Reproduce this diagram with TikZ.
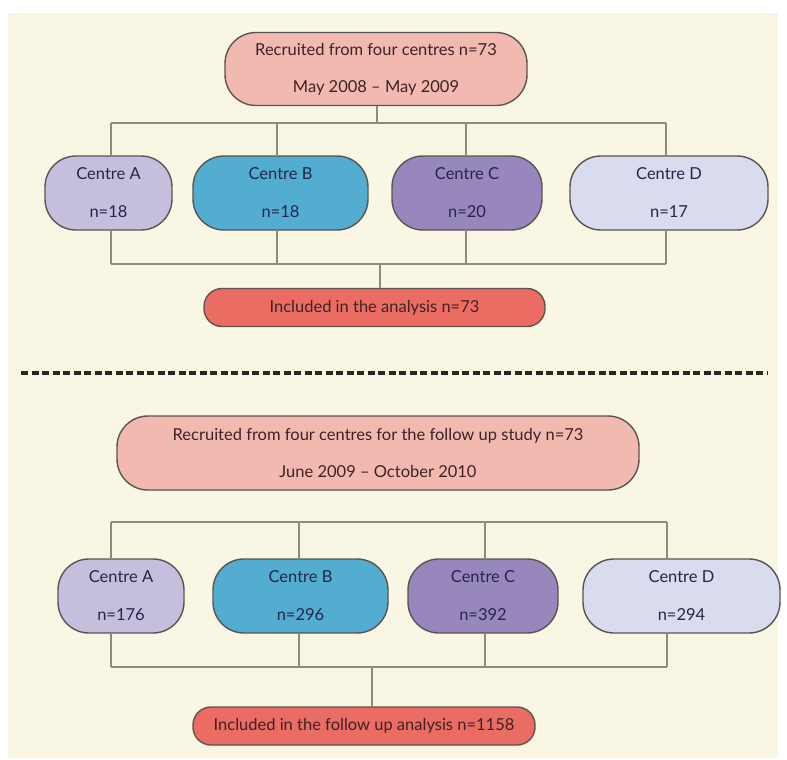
\documentclass[tikz,border=0pt]{standalone}
\usepackage{fontspec}
\setmainfont{Lato}
\definecolor{cream}{HTML}{FAF6E4}
\definecolor{pinkbox}{HTML}{F2B9B1}
\definecolor{lavA}{HTML}{C6BEDD}
\definecolor{blueB}{HTML}{52ADD0}
\definecolor{purpC}{HTML}{9887BC}
\definecolor{paleD}{HTML}{D9DBEF}
\definecolor{redbox}{HTML}{EA6C63}
\definecolor{outline}{HTML}{5A5552}
\definecolor{linkcol}{HTML}{8E8B78}
\definecolor{navytext}{HTML}{26254A}
\definecolor{browntext}{HTML}{3E2224}
\begin{document}
\begin{tikzpicture}[x=1pt,y=-1pt,
  box/.style={draw=outline,line width=1.4pt,rounded corners=31pt,align=center,inner sep=0pt,
    font=\fontsize{16.5}{18}\selectfont},
  centrebox/.style={box,minimum height=74pt,text=navytext},
  headbox/.style={box,minimum height=73pt,fill=pinkbox,text=browntext},
  incbox/.style={box,rounded corners=18pt,minimum height=38pt,fill=redbox,text=browntext},
  link/.style={draw=linkcol,line width=1.1pt}]
\useasboundingbox (0,0) rectangle (787,760);
\fill[white] (0,0) rectangle (787,760);
\fill[cream] (8,13) rectangle (778,758);

% ---------- upper chart ----------
\node[headbox,minimum width=302pt] (top1) at (376,69) {Recruited from four centres n=73\\[19pt]May 2008 -- May 2009};
\node[centrebox,fill=lavA,minimum width=127pt] (A1) at (108.5,193) {Centre A\\[20pt]n=18};
\node[centrebox,fill=blueB,minimum width=175pt] (B1) at (280.5,193) {Centre B\\[20pt]n=18};
\node[centrebox,fill=purpC,minimum width=150pt] (C1) at (467,193) {Centre C\\[20pt]n=20};
\node[centrebox,fill=paleD,minimum width=198pt] (D1) at (669,193) {Centre D\\[20pt]n=17};
\node[incbox,minimum width=341pt] (inc1) at (374.5,307.5) {Included in the analysis n=73};

\coordinate (tA1) at (111,123); \coordinate (tB1) at (277,123);
\coordinate (tC1) at (466,123); \coordinate (tD1) at (666,123);
\coordinate (tM1) at (377,123);
\coordinate (bA1) at (111,264); \coordinate (bB1) at (277,264);
\coordinate (bC1) at (466,264); \coordinate (bD1) at (666,264);
\coordinate (bM1) at (380,264);

\draw[link] (tM1 |- top1.south) -- (tM1);
\draw[link] (tA1) -- (tD1);
\draw[link] (tA1) -- (tA1 |- A1.north);
\draw[link] (tB1) -- (tB1 |- B1.north);
\draw[link] (tC1) -- (tC1 |- C1.north);
\draw[link] (tD1) -- (tD1 |- D1.north);
\draw[link] (bA1 |- A1.south) -- (bA1);
\draw[link] (bB1 |- B1.south) -- (bB1);
\draw[link] (bC1 |- C1.south) -- (bC1);
\draw[link] (bD1 |- D1.south) -- (bD1);
\draw[link] (bA1) -- (bD1);
\draw[link] (bM1) -- (bM1 |- inc1.north);

% ---------- separator ----------
\coordinate (sepL) at (21,373); \coordinate (sepR) at (767,373);
\draw[line width=3.2pt,dash pattern=on 7pt off 3.5pt,color=black!85] (sepL) -- (sepR);

% ---------- lower chart ----------
\node[headbox,minimum width=522pt,minimum height=74pt] (top2) at (378,453) {Recruited from four centres for the follow up study n=73\\[19pt]June 2009 -- October 2010};
\node[centrebox,fill=lavA,minimum width=126pt] (A2) at (121,596) {Centre A\\[20pt]n=176};
\node[centrebox,fill=blueB,minimum width=175pt] (B2) at (300.5,596) {Centre B\\[20pt]n=296};
\node[centrebox,fill=purpC,minimum width=150pt] (C2) at (483,596) {Centre C\\[20pt]n=392};
\node[centrebox,fill=paleD,minimum width=197pt] (D2) at (681.5,596) {Centre D\\[20pt]n=294};
\node[incbox,minimum width=342pt] (inc2) at (364,726) {Included in the follow up analysis n=1158};

\coordinate (tA2) at (111,522); \coordinate (tB2) at (299,522);
\coordinate (tC2) at (485,522); \coordinate (tD2) at (667,522);
\coordinate (bA2) at (111,667); \coordinate (bB2) at (299,667);
\coordinate (bC2) at (485,667); \coordinate (bD2) at (667,667);
\coordinate (bM2) at (372,667);

\draw[link] (tA2) -- (tD2);
\draw[link] (tA2) -- (tA2 |- A2.north);
\draw[link] (tB2) -- (tB2 |- B2.north);
\draw[link] (tC2) -- (tC2 |- C2.north);
\draw[link] (tD2) -- (tD2 |- D2.north);
\draw[link] (bA2 |- A2.south) -- (bA2);
\draw[link] (bB2 |- B2.south) -- (bB2);
\draw[link] (bC2 |- C2.south) -- (bC2);
\draw[link] (bD2 |- D2.south) -- (bD2);
\draw[link] (bA2) -- (bD2);
\draw[link] (bM2) -- (bM2 |- inc2.north);
\end{tikzpicture}
\end{document}
